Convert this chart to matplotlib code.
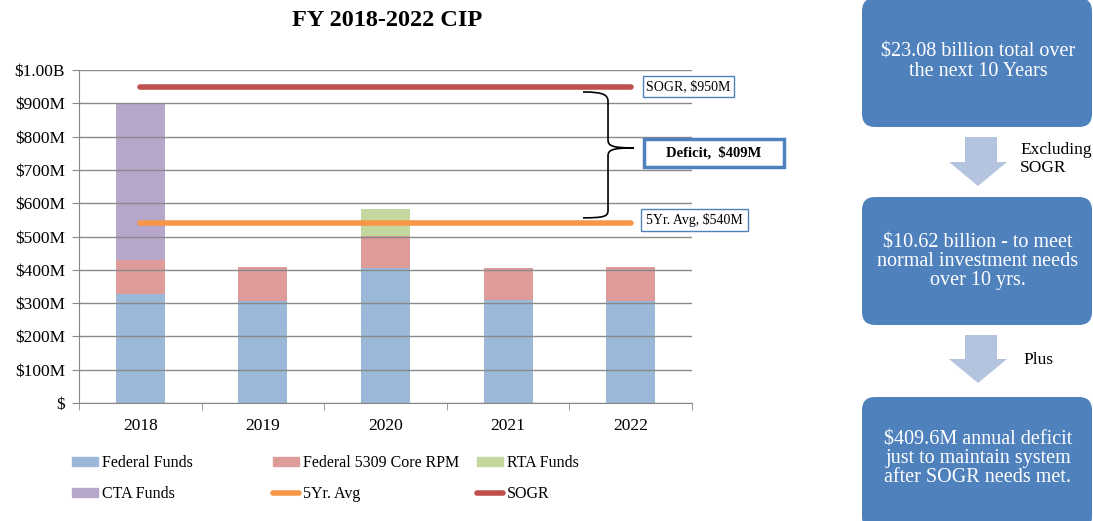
import matplotlib.pyplot as plt
import numpy as np
from matplotlib.patches import Rectangle, FancyBboxPatch, Polygon, Patch
from matplotlib.path import Path
from matplotlib.patches import PathPatch
from matplotlib.lines import Line2D

plt.rcParams['font.family'] = ['Liberation Serif', 'DejaVu Serif']

# data (values in $M)
years = ['2018', '2019', '2020', '2021', '2022']
federal = [327, 307, 404, 308, 307]
core_5309 = [102, 101, 98, 97, 101]
rta = [0, 0, 81, 0, 0]
cta = [471, 0, 0, 0, 0]
avg_5yr = 540
sogr = 950
deficit = 409

y_ticks = [0, 100, 200, 300, 400, 500, 600, 700, 800, 900, 1000]
y_labels = ['$', '$100M', '$200M', '$300M', '$400M', '$500M', '$600M',
            '$700M', '$800M', '$900M', '$1.00B']

flow_texts = ['$23.08 billion total over\nthe next 10 Years',
              '$10.62 billion - to meet\nnormal investment needs\nover 10 yrs.',
              '$409.6M annual deficit\njust to maintain system\nafter SOGR needs met.']
arrow_texts = ['Excluding\nSOGR', 'Plus']

c_fed = '#9BB8D9'
c_5309 = '#DD9B9A'
c_rta = '#C4D79E'
c_cta = '#B6A6CA'
c_avg = '#F79646'
c_sogr = '#C0504D'
c_box = '#4F81BD'
c_arrow = '#B4C4DF'

W, H = 1093, 521
fig = plt.figure(figsize=(W / 100, H / 100), dpi=100)
ax = fig.add_axes([79 / W, 1 - 403 / H, (692 - 79) / W, (403 - 70) / H])

x = np.arange(len(years))
bw = 0.4
fed = np.array(federal)
c53 = np.array(core_5309)
rt = np.array(rta)
ct = np.array(cta)
ax.bar(x, fed, bw, color=c_fed, zorder=1)
ax.bar(x, c53, bw, bottom=fed, color=c_5309, zorder=1)
ax.bar(x, rt, bw, bottom=fed + c53, color=c_rta, zorder=1)
ax.bar(x, ct, bw, bottom=fed + c53 + rt, color=c_cta, zorder=1)

ax.plot([x[0], x[-1]], [avg_5yr, avg_5yr], color=c_avg, lw=4, solid_capstyle='round', zorder=3)
ax.plot([x[0], x[-1]], [sogr, sogr], color=c_sogr, lw=4, solid_capstyle='round', zorder=3)

ax.set_xlim(-0.5, len(years) - 0.5)
ax.set_ylim(0, 1000)
ax.set_yticks(y_ticks)
ax.set_yticklabels(y_labels, fontsize=12.5)
ax.set_xticks(x)
ax.set_xticklabels(years, fontsize=12.5)
ax.set_xticks(np.arange(len(years) + 1) - 0.5, minor=True)
ax.tick_params(axis='x', which='major', length=0, pad=11)
ax.tick_params(axis='x', which='minor', length=5, color='#888888')
ax.tick_params(axis='y', length=5, color='#888888', pad=5)
ax.grid(axis='y', color='#8a8a8a', lw=1, zorder=2)
ax.set_axisbelow(False)
for s in ['top', 'right']:
    ax.spines[s].set_visible(False)
for s in ['left', 'bottom']:
    ax.spines[s].set_color('#888888')

fig.text(387 / W, 1 - 20 / H, 'FY 2018-2022 CIP', ha='center', va='center',
         fontsize=17.5, fontweight='bold')

# brace between SOGR and 5yr avg
verts = [(3.611, 934), (3.78, 934), (3.815, 925), (3.815, 905),
         (3.815, 790),
         (3.815, 772), (3.85, 766), (4.027, 766),
         (3.85, 766), (3.815, 760), (3.815, 742),
         (3.815, 578),
         (3.815, 560), (3.78, 556), (3.611, 556)]
codes = [Path.MOVETO, Path.CURVE4, Path.CURVE4, Path.CURVE4,
         Path.LINETO,
         Path.CURVE4, Path.CURVE4, Path.CURVE4,
         Path.CURVE4, Path.CURVE4, Path.CURVE4,
         Path.LINETO,
         Path.CURVE4, Path.CURVE4, Path.CURVE4]
ax.add_patch(PathPatch(Path(verts, codes), fill=False, lw=1.2, color='black',
                       clip_on=False, zorder=4))


def px_box(x0, y0, x1, y1, text, lw=1, weight='normal', fs=10):
    fig.patches.append(Rectangle((x0 / W, 1 - y1 / H), (x1 - x0) / W, (y1 - y0) / H,
                                 transform=fig.transFigure, facecolor='white',
                                 edgecolor=c_box, lw=lw))
    fig.text((x0 + x1) / 2 / W, 1 - (y0 + y1) / 2 / H, text, ha='center', va='center',
             fontsize=fs, fontweight=weight)


px_box(643, 76, 734, 97, 'SOGR, $' + str(sogr) + 'M')
px_box(644, 139, 784, 167, 'Deficit,  $' + str(deficit) + 'M', lw=2.5, weight='bold', fs=10.5)
px_box(641, 209, 748, 231, '5Yr. Avg, $' + str(avg_5yr) + 'M')

# legend in three columns
entries = [
    (Patch(color=c_fed), 'Federal Funds'),
    (Patch(color=c_cta), 'CTA Funds'),
    (Patch(color=c_5309), 'Federal 5309 Core RPM'),
    (Line2D([], [], color=c_avg, lw=4, solid_capstyle='round'), '5Yr. Avg'),
    (Patch(color=c_rta), 'RTA Funds'),
    (Line2D([], [], color=c_sogr, lw=4, solid_capstyle='round'), 'SOGR'),
]
col_x = [72, 273, 477]
for i, cx in enumerate(col_x):
    hs = [entries[2 * i][0], entries[2 * i + 1][0]]
    ls = [entries[2 * i][1], entries[2 * i + 1][1]]
    fig.legend(hs, ls, loc='upper left', bbox_to_anchor=(cx / W, 1 - 455 / H),
               frameon=False, fontsize=11.5, handlelength=1.65, handleheight=0.5,
               handletextpad=0.2, labelspacing=0.95, borderaxespad=0, borderpad=0)

# flow chart on the right
box_y = [(-2, 127), (197, 325), (397, 530)]
for (y0, y1), t in zip(box_y, flow_texts):
    fig.patches.append(FancyBboxPatch((862 / W, 1 - y1 / H), (1092 - 862) / W, (y1 - y0) / H,
                                      boxstyle='round,pad=0,rounding_size=0.012',
                                      transform=fig.transFigure, facecolor=c_box,
                                      edgecolor='none', mutation_aspect=W / H))
text_mid = [62, 262, 459]
for t, ym in zip(flow_texts, text_mid):
    fig.text(978 / W, 1 - ym / H, t, ha='center', va='center', color='white',
             fontsize=14.5, linespacing=1.0)

arrow_y = [(137, 162, 186), (335, 359, 383)]
for (ya, yb, yc), t in zip(arrow_y, arrow_texts):
    pts = [(965, ya), (997, ya), (997, yb), (1007, yb), (978, yc), (949, yb), (965, yb)]
    fig.patches.append(Polygon([(px / W, 1 - py / H) for px, py in pts], closed=True,
                               transform=fig.transFigure, facecolor=c_arrow, edgecolor='none'))
fig.text(1020 / W, 1 - 159 / H, arrow_texts[0], ha='left', va='center', fontsize=12.5,
         linespacing=1.1)
fig.text(1023 / W, 1 - 360 / H, arrow_texts[1], ha='left', va='center', fontsize=12.5)

fig.savefig('out.png', dpi=100)
